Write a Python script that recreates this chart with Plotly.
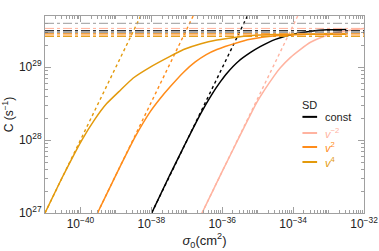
import numpy as np
import plotly.graph_objects as go

# ---- data (log10 values) ----
const_logsig = [-37.99, -37.5, -36.99, -36.6, -36.3, -36.05, -35.86, -35.54, -35.2, -34.93, -34.5, -34.0, -33.5, -33.04, -32.5]
const_logC   = [27.0, 27.5, 28.0, 28.37, 28.62, 28.80, 28.92, 29.08, 29.20, 29.28, 29.38, 29.45, 29.49, 29.51, 29.515]

vm2_logsig = [-36.57, -36.0, -35.49, -35.02, -34.55, -34.36, -34.08, -33.8, -33.51, -33.14, -32.8, -32.57, -32.3, -32.0]
vm2_logC   = [27.0, 27.57, 28.07, 28.52, 28.87, 28.99, 29.13, 29.24, 29.34, 29.42, 29.47, 29.49, 29.51, 29.53]

v2_logsig = [-39.52, -39.0, -38.45, -38.03, -37.75, -37.47, -37.09, -36.76, -36.45, -36.15, -35.6, -35.21, -34.5, -33.7, -32.9, -32.5]
v2_logC   = [27.0, 27.52, 28.05, 28.39, 28.57, 28.73, 28.93, 29.07, 29.17, 29.24, 29.33, 29.38, 29.43, 29.45, 29.46, 29.46]

v4_logsig = [-41.0, -40.5, -39.96, -39.6, -39.26, -38.88, -38.51, -38.03, -37.5, -37.09, -36.6, -36.15, -35.6, -35.21, -34.5, -33.8, -33.0, -32.5]
v4_logC   = [27.0, 27.5, 28.0, 28.28, 28.50, 28.68, 28.85, 29.00, 29.14, 29.24, 29.32, 29.37, 29.41, 29.43, 29.445, 29.45, 29.45, 29.45]

# linear (single-scatter) asymptotes: two points each
const_lin_logsig = [-37.99, -35.29]
vm2_lin_logsig = [-36.57, -33.87]
v2_lin_logsig = [-39.52, -36.82]
v4_lin_logsig = [-41.0, -38.3]
lin_logC = [27.0, 29.7]

# horizontal saturation (dot-dash) levels
sat_levels = [29.60, 29.53, 29.50, 29.48, 29.46, 29.44, 29.42]
sat_colors = ["#9a9a9a", "#ffb09a", "#222222", "#555555", "#f0a040", "#ff8c1a", "#e09a10"]

series_names = ["const", "v<sup>−2</sup>", "v<sup>2</sup>", "v<sup>4</sup>"]
series_colors = ["#000000", "#ffb3a0", "#ff8c1a", "#e39a0c"]

x_label_exps = [-40, -38, -36, -34, -32]
y_label_exps = [27, 28, 29]

fig = go.Figure()

solid = [(const_logsig, const_logC), (vm2_logsig, vm2_logC), (v2_logsig, v2_logC), (v4_logsig, v4_logC)]
lin = [const_lin_logsig, vm2_lin_logsig, v2_lin_logsig, v4_lin_logsig]

for lvl, col in zip(sat_levels, sat_colors):
    fig.add_hline(y=10**lvl, line=dict(color=col, width=1, dash="dashdot"))

for (xs, ys), lx, col in zip(solid, lin, series_colors):
    fig.add_trace(go.Scatter(x=[10**v for v in lx], y=[10**v for v in lin_logC], mode="lines",
                             line=dict(color=col, width=1.4, dash="dot"), showlegend=False))
    fig.add_trace(go.Scatter(x=[10**v for v in xs], y=[10**v for v in ys], mode="lines",
                             line=dict(color=col, width=1.5, shape="spline", smoothing=0.4), showlegend=False))

# ticks
xmaj = [10.0**e for e in x_label_exps]
xtxt = ["10<sup>−%d</sup>" % (-e) for e in x_label_exps]
xmin = [k * 10.0**e for e in range(-41, -32) for k in range(1, 10) if not (k == 1 and e in x_label_exps)]
ymaj = [10.0**e for e in y_label_exps]
ytxt = ["10<sup>%d</sup>" % e for e in y_label_exps]
ymin = [k * 10.0**e for e in range(27, 30) for k in range(2, 10)]

axis_common = dict(showline=True, linecolor="#a0a0a0", linewidth=1, mirror="ticks", ticks="inside",
                   tickcolor="#a0a0a0", ticklen=6, showgrid=False, zeroline=False, automargin=False,
                   tickfont=dict(family="Liberation Sans, Arial", size=12, color="#222"))

fig.update_xaxes(type="log", range=[-41, -32], tickmode="array", tickvals=xmaj, ticktext=xtxt,
                 minor=dict(tickmode="array", tickvals=xmin, ticks="inside", ticklen=3, tickcolor="#a0a0a0"),
                 title=dict(text="<i>σ</i><sub>0</sub>(cm<sup>2</sup>)", standoff=4,
                            font=dict(family="Liberation Sans, Arial", size=13, color="#222")),
                 **axis_common)
fig.update_yaxes(type="log", range=[27, 29.7], tickmode="array", tickvals=ymaj, ticktext=ytxt,
                 minor=dict(tickmode="array", tickvals=ymin, ticks="inside", ticklen=3, tickcolor="#a0a0a0"),
                 title=dict(text="C (s<sup>−1</sup>)", standoff=4,
                            font=dict(family="Liberation Sans, Arial", size=12, color="#222")),
                 **axis_common)

# manual legend
lx0, lx1, ltx = 0.807, 0.853, 0.872
ly = [0.488, 0.406, 0.335, 0.259]
fig.add_annotation(x=lx0 - 0.008, y=0.55, xref="paper", yref="paper", text="SD", showarrow=False,
                   xanchor="left", yanchor="middle", font=dict(family="Liberation Sans, Arial", size=11, color="#222"))
for name, col, yy in zip(series_names, series_colors, ly):
    fig.add_shape(type="line", xref="paper", yref="paper", x0=lx0, x1=lx1, y0=yy, y1=yy,
                  line=dict(color=col, width=2))
    if name == "const":
        txt = name
        tcol = "#222"
    else:
        txt = "<i>" + name.replace("v<sup>", "v</i><sup>")
        tcol = col
    fig.add_annotation(x=ltx, y=yy, xref="paper", yref="paper", text=txt, showarrow=False,
                       xanchor="left", yanchor="middle", font=dict(family="Liberation Sans, Arial", size=11, color=tcol))

fig.update_layout(width=379, height=251, margin=dict(l=45, r=15, t=16, b=38, autoexpand=False),
                  plot_bgcolor="white", paper_bgcolor="white", showlegend=False)

fig.write_html("out.html", config={"displayModeBar": False},
               post_script="document.body.style.margin='0px';document.body.style.overflow='hidden';")
